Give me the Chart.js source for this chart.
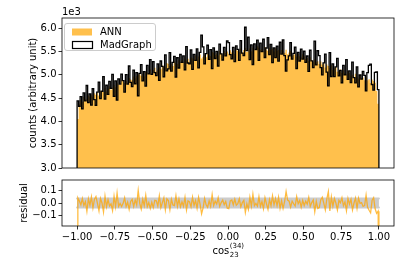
<!DOCTYPE html>
<html>
<head>
<meta charset="utf-8">
<script src="https://cdn.jsdelivr.net/npm/chart.js@4.4.0/dist/chart.umd.min.js"></script>
<style>
body { margin: 0; background: #fff; }
#wrap { position: relative; width: 415px; height: 260px; }
canvas { position: absolute; left: 0; }
</style>
</head>
<body>
<div id="wrap">
<canvas id="chart_top" width="415" height="176" style="top:0"></canvas>
<canvas id="chart_res" width="415" height="88" style="top:172px"></canvas>
</div>
<script>
// binning of cos_23^(34)
var nBins = 200;
var xMin = -1, xMax = 1;
var binEdges = [];
for (var i = 0; i <= nBins; i++)
	binEdges.push(+(xMin + (xMax - xMin) * i / nBins).toFixed(3));
var binCenters = binEdges.slice(0, -1).map(function(e, i) { return +((e + binEdges[i + 1]) / 2).toFixed(4); });

// counts per bin
var madgraphCounts = [
	4440, 4325, 4532, 4270, 4613, 4442, 4770, 4403, 4592, 4350,
	4700, 4469, 4344, 4628, 4843, 4487, 4647, 4961, 4476, 4775,
	4580, 4859, 4709, 5008, 4538, 4867, 4457, 4911, 4801, 5015,
	4875, 4628, 5002, 4800, 5188, 4837, 4745, 5098, 4807, 5045,
	4550, 5028, 5217, 4870, 5068, 4757, 5200, 5018, 5327, 5010,
	5280, 5046, 4982, 5233, 4879, 5296, 5182, 4958, 5429, 5085,
	5125, 5475, 5080, 5265, 5395, 4950, 5365, 5145, 5435, 5265,
	5405, 5108, 5606, 5253, 5236, 5534, 5117, 5439, 5307, 5555,
	5150, 5481, 5850, 5597, 5237, 5453, 5633, 5329, 5539, 5130,
	5575, 5349, 5504, 5188, 5658, 5447, 5317, 5586, 5406, 5725,
	5690, 5434, 5344, 5588, 5283, 5622, 5547, 5311, 5731, 5465,
	5410, 6020, 5517, 5805, 5323, 5642, 5220, 5663, 5542, 5745,
	5310, 5679, 5498, 5762, 5371, 5574, 5798, 5432, 5651, 5260,
	5575, 5369, 5614, 5293, 5698, 5442, 5747, 5411, 5080, 5320,
	5405, 5690, 5335, 5460, 5595, 5135, 5480, 5295, 5550, 5335,
	5505, 5264, 5403, 5072, 5526, 5299, 5153, 5720, 5211, 5515,
	5410, 5152, 4998, 5255, 5442, 5058, 4760, 5477, 4963, 5235,
	4960, 5168, 5351, 4978, 5096, 4829, 5202, 4999, 5327, 4900,
	5085, 4830, 5270, 4940, 4825, 5170, 4740, 4995, 4905, 5075,
	4985, 4656, 5047, 5200, 5229, 4791, 4672, 5053, 5060, 4680
];
var annCounts = [
	4050, 4380, 4457, 4420, 4523, 4487, 4470, 4553, 4517, 4560,
	4520, 4604, 4569, 4613, 4558, 4652, 4647, 4631, 4716, 4640,
	4700, 4754, 4679, 4723, 4778, 4732, 4817, 4791, 4786, 4880,
	4860, 4823, 4867, 4830, 4933, 4897, 4880, 4963, 4927, 4970,
	5000, 5013, 4977, 5020, 4963, 5057, 5050, 5033, 5117, 5040,
	5100, 5151, 5072, 5113, 5164, 5116, 5197, 5168, 5159, 5250,
	5230, 5190, 5230, 5190, 5290, 5250, 5230, 5310, 5270, 5310,
	5270, 5348, 5306, 5343, 5281, 5369, 5357, 5334, 5412, 5330,
	5390, 5436, 5351, 5387, 5432, 5378, 5453, 5419, 5404, 5490,
	5470, 5424, 5459, 5413, 5508, 5462, 5437, 5511, 5466, 5500,
	5450, 5524, 5479, 5513, 5448, 5532, 5517, 5491, 5566, 5480,
	5530, 5573, 5487, 5520, 5563, 5507, 5580, 5543, 5527, 5610,
	5580, 5529, 5558, 5507, 5596, 5544, 5513, 5582, 5531, 5560,
	5500, 5564, 5509, 5533, 5458, 5532, 5507, 5471, 5536, 5440,
	5480, 5510, 5410, 5430, 5460, 5390, 5450, 5400, 5370, 5440,
	5400, 5339, 5358, 5297, 5376, 5314, 5273, 5332, 5271, 5290,
	5230, 5287, 5223, 5240, 5157, 5223, 5190, 5147, 5203, 5100,
	5140, 5168, 5066, 5083, 5111, 5039, 5097, 5044, 5012, 5080,
	5040, 4980, 5000, 4940, 5020, 4960, 4920, 4980, 4920, 4940,
	4880, 4941, 4882, 4903, 4824, 4896, 4867, 4828, 4650, 4380
];
var residual = [
	0.04, 0.015, -0.015, 0.035, -0.02, 0.01, -0.065, 0.033, -0.017, 0.048,
	-0.039, 0.03, 0.051, -0.003, -0.062, 0.036, 0.0, -0.07, 0.053, -0.029,
	0.026, -0.023, -0.006, -0.059, 0.053, -0.029, 0.078, -0.026, -0.003, -0.027,
	-0.003, 0.041, -0.027, 0.006, -0.05, 0.012, 0.029, -0.027, 0.024, -0.015,
	0.099, -0.003, -0.048, 0.03, -0.021, 0.06, -0.03, 0.003, -0.042, 0.006,
	-0.036, 0.021, 0.018, -0.024, 0.056, -0.036, 0.003, 0.041, -0.053, 0.033,
	0.02, -0.053, 0.029, -0.015, -0.02, 0.057, -0.026, 0.032, -0.03, 0.009,
	-0.026, 0.045, -0.054, 0.017, 0.009, -0.03, 0.045, -0.02, 0.02, -0.041,
	0.045, -0.009, -0.085, -0.039, 0.036, -0.014, -0.033, 0.017, -0.026, 0.066,
	-0.02, 0.014, -0.008, 0.041, -0.027, 0.003, 0.023, -0.014, 0.011, -0.041,
	-0.044, 0.017, 0.024, -0.014, 0.03, -0.017, -0.006, 0.033, -0.03, 0.003,
	0.021, -0.074, -0.006, -0.05, 0.045, -0.024, 0.068, -0.021, -0.003, -0.024,
	0.05, -0.027, 0.011, -0.045, 0.042, -0.006, -0.05, 0.027, -0.021, 0.056,
	-0.014, 0.036, -0.02, 0.045, -0.042, 0.017, -0.042, 0.011, 0.09, 0.023,
	0.014, -0.032, 0.014, -0.006, -0.024, 0.05, -0.006, 0.02, -0.033, 0.02,
	-0.02, 0.014, -0.009, 0.044, -0.027, 0.003, 0.023, -0.068, 0.012, -0.042,
	-0.035, 0.026, 0.045, -0.003, -0.054, 0.033, 0.09, -0.062, 0.048, -0.026,
	0.036, 0.0, -0.054, 0.021, 0.003, 0.042, -0.021, 0.009, -0.06, 0.036,
	-0.009, 0.03, -0.053, 0.0, 0.039, -0.041, 0.038, -0.003, 0.003, -0.027,
	-0.021, 0.061, -0.033, -0.057, -0.077, 0.022, 0.042, -0.045, -0.081, -0.064
];
var residualEdge = -1;          // value at x = -1 and x = 1
var residualBand = [-0.035, 0.035];
var countTicks = [3000, 3500, 4000, 4500, 5000, 5500, 6000];

Chart.defaults.font.family = 'DejaVu Sans';
Chart.defaults.font.size = 10;
Chart.defaults.color = '#000';
Chart.defaults.animation = false;

var orangeFill = 'rgba(255,165,0,0.7)';
var minus = function(s) { return s.replace('-', '\u2212'); };

function stepPoints(vals, closed) {
	var pts = binEdges.slice(0, -1).map(function(e, i) { return {x: e, y: vals[i]}; });
	pts.push({x: xMax, y: vals[vals.length - 1]});
	if (closed) {
		pts.unshift({x: xMin, y: 0});
		pts.push({x: xMax, y: 0});
	}
	return pts;
}

var frame = {
	id: 'frame',
	afterDraw: function(chart) {
		var a = chart.chartArea, c = chart.ctx;
		c.save();
		c.strokeStyle = '#000';
		c.lineWidth = 0.8;
		c.strokeRect(a.left, a.top, a.right - a.left, a.bottom - a.top);
		c.restore();
	}
};

var legendBox = {
	id: 'legendBox',
	afterDraw: function(chart) {
		var c = chart.ctx, ds = chart.data.datasets;
		c.save();
		c.beginPath();
		c.roundRect(64.5, 23.5, 91, 27, 2.5);
		c.fillStyle = 'rgba(255,255,255,0.8)';
		c.fill();
		c.strokeStyle = '#cccccc';
		c.lineWidth = 1;
		c.stroke();
		c.fillStyle = orangeFill;
		c.fillRect(72, 28.5, 20, 7);
		c.fillStyle = '#fff';
		c.fillRect(72.5, 41.5, 20, 7);
		c.strokeStyle = '#000';
		c.lineWidth = 1.2;
		c.strokeRect(72.5, 41.5, 20, 7);
		c.fillStyle = '#000';
		c.font = '10px "DejaVu Sans"';
		c.textBaseline = 'middle';
		c.fillText(ds[0].label, 100, 32.5);
		c.fillText(ds[1].label, 100, 45.5);
		// offset text of the y axis
		c.textBaseline = 'alphabetic';
		c.fillText('1e3', 62, 15);
		c.restore();
	}
};

var ctx_top = document.getElementById('chart_top').getContext('2d');
var chart_top = new Chart(ctx_top, {
	type: 'line',
	data: {
		datasets: [
		{label: 'ANN', data: stepPoints(annCounts, false), stepped: true, pointRadius: 0, order: 2,
		borderWidth: 0, borderColor: 'rgba(0,0,0,0)', backgroundColor: orangeFill, fill: 'start'},
		{label: 'MadGraph', data: stepPoints(madgraphCounts, true), stepped: true, pointRadius: 0, order: 1,
		borderWidth: 1.3, borderColor: '#000', fill: false}
		]
	},
	options: {
		responsive: false,
		layout: {padding: {left: 0, right: 21, top: 18, bottom: 2}},
		plugins: {legend: {display: false}, tooltip: {enabled: false}},
		scales: {
			x: {type: 'linear', min: -1.1, max: 1.1, display: false},
			y: {
				min: 3000, max: 6218,
				afterFit: function(s) { s.width = 62; },
				afterBuildTicks: function(s) { s.ticks = countTicks.map(function(v) { return {value: v}; }); },
				border: {display: false},
				grid: {drawOnChartArea: false, tickLength: 3.5, tickWidth: 0.8, tickColor: '#000'},
				ticks: {padding: 2, color: '#000',
					callback: function(v) { return (v / 1000).toFixed(1); }},
				title: {display: true, text: 'counts (arbitrary unit)', color: '#000', padding: {top: 27, bottom: 0}}
			}
		}
	},
	plugins: [frame, legendBox]
});

var xTitle = {
	id: 'xTitle',
	afterDraw: function(chart) {
		var c = chart.ctx, a = chart.chartArea;
		c.save();
		c.fillStyle = '#000';
		c.textBaseline = 'alphabetic';
		c.font = '10px "DejaVu Sans"';
		var w1 = c.measureText('cos').width;
		c.font = '7px "DejaVu Sans"';
		var w2 = Math.max(c.measureText('(34)').width, c.measureText('23').width);
		var x0 = (a.left + a.right) / 2 - (w1 + w2) / 2;
		c.font = '10px "DejaVu Sans"';
		c.fillText('cos', x0, 82);
		c.font = '7px "DejaVu Sans"';
		c.fillText('(34)', x0 + w1 + 0.5, 76);
		c.fillText('23', x0 + w1 + 0.5, 85);
		c.restore();
	}
};

var residualPoints = [{x: xMin, y: residualEdge}]
	.concat(binCenters.map(function(x, i) { return {x: x, y: residual[i]}; }))
	.concat([{x: xMax, y: residualEdge}]);

var ctx_res = document.getElementById('chart_res').getContext('2d');
var chart_res = new Chart(ctx_res, {
	type: 'line',
	data: {
		datasets: [
		{label: 'band+', data: [{x: xMin, y: residualBand[1]}, {x: xMax, y: residualBand[1]}], pointRadius: 0, order: 3,
		borderWidth: 2, borderColor: 'rgb(204,204,204)', borderCapStyle: 'round', fill: false},
		{label: 'band-', data: [{x: xMin, y: residualBand[0]}, {x: xMax, y: residualBand[0]}], pointRadius: 0, order: 2,
		borderWidth: 2, borderColor: 'rgb(204,204,204)', borderCapStyle: 'round',
		backgroundColor: 'rgb(204,204,204)', fill: '-1'},
		{label: 'residual', data: residualPoints, pointRadius: 0, borderWidth: 1.3, order: 1,
		borderColor: 'rgba(255,165,0,0.75)', fill: false}
		]
	},
	options: {
		responsive: false,
		layout: {padding: {left: 0, right: 21, top: 2, bottom: 0}},
		plugins: {legend: {display: false}, tooltip: {enabled: false}},
		scales: {
			x: {
				type: 'linear', min: -1.1, max: 1.1,
				afterFit: function(s) { s.height = 34; },
				border: {display: false},
				grid: {drawOnChartArea: false, tickLength: 3.5, tickWidth: 0.8, tickColor: '#000'},
				ticks: {stepSize: 0.25, includeBounds: false, padding: 2, color: '#000', maxRotation: 0,
					callback: function(v) { return minus(v.toFixed(2)); }}
			},
			y: {
				min: -0.18, max: 0.18,
				afterFit: function(s) { s.width = 62; },
				border: {display: false},
				grid: {drawOnChartArea: false, tickLength: 3.5, tickWidth: 0.8, tickColor: '#000'},
				ticks: {stepSize: 0.1, includeBounds: false, padding: 2, color: '#000',
					callback: function(v) { return minus(v.toFixed(1)); }},
				title: {display: true, text: 'residual', color: '#000', padding: {top: 18.5, bottom: 0}}
			}
		}
	},
	plugins: [frame, xTitle]
});
</script>
</body>
</html>
